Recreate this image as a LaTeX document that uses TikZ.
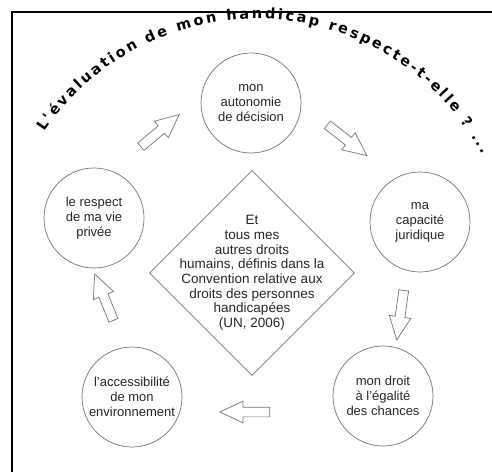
\documentclass[tikz,border=0pt]{standalone}
\usepackage{fontspec}
\setmainfont{Liberation Sans}
\newfontfamily\titlefont{DejaVu Sans}
\usetikzlibrary{shapes.geometric,shapes.arrows,decorations.text}
\begin{document}
\begin{tikzpicture}[x=1pt,y=1pt,
  circ/.style={circle, draw=black!55, line width=0.7pt, minimum size=100pt, inner sep=-15pt, align=center, font=\fontsize{13}{15}\selectfont, text=black!85},
  diam/.style={diamond, draw=black!55, line width=0.7pt, minimum width=205pt, minimum height=205pt, inner sep=0pt},
  diamtext/.style={align=center, font=\fontsize{13.5}{14.7}\selectfont, text=black!85, inner sep=0pt},
  barrow/.style={single arrow, draw=black!55, line width=0.7pt, fill=white, minimum height=50pt, minimum width=21pt, single arrow head extend=6pt, single arrow tip angle=50, inner xsep=0pt, inner ysep=4.5pt},
  frameline/.style={line width=2pt}]
\useasboundingbox (0,0) rectangle (492,472);
\draw[frameline] (12,0) -- (12,460) -- (492,460);
\path[decorate, decoration={text along path, text format delimiters={|}{|},
  text={|\titlefont\fontsize{14.5}{14.5}\selectfont\bfseries|L'évaluation de mon handicap respecte-t-elle ? ...},
  text align={fit to path}}]
  (256.3,197.2) ++(146:255.9) arc[start angle=146, end angle=28, radius=255.9];
\node[circ] (top) at (251,369) {mon\\autonomie\\de décision};
\node[circ] (left) at (94,254) {le respect\\de ma vie\\privée};
\node[circ] (right) at (420,250) {ma\\capacité\\juridique};
\node[circ] (bl) at (132,75) {l'accessibilité\\de mon\\environnement};
\node[circ] (br) at (383,76) {mon droit\\à l'égalité\\des chances};
\node[diam] (diam) at (252,199) {};
\node[diamtext] (dtext) at (diam.center) {Et\\tous mes\\autres droits\\humains, définis dans la\\Convention relative aux\\droits des personnes\\handicapées\\(UN, 2006)};
\node[barrow, rotate=40] (a1) at (156,338) {};
\node[barrow, rotate=-38] (a2) at (343,335) {};
\node[barrow, rotate=-98] (a3) at (401,162) {};
\node[barrow, rotate=180] (a4) at (250,60) {};
\node[barrow, rotate=112] (a5) at (106,170) {};
\end{tikzpicture}
\end{document}
